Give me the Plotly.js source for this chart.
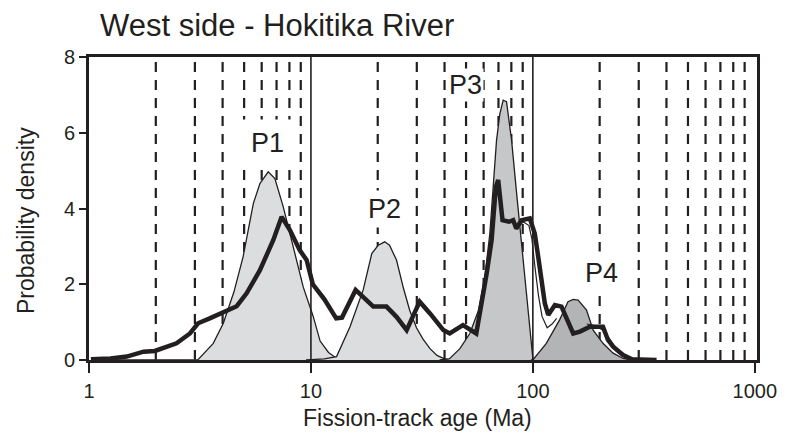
<!DOCTYPE html>
<html>
<head>
<meta charset="utf-8">
<script src="https://cdn.plot.ly/plotly-3.0.1.min.js"></script>
<style>
  html, body { margin: 0; padding: 0; background: #ffffff; }
  #chart { width: 790px; height: 433px; }
</style>
</head>
<body>
<div id="chart"></div>
<script>
// ---------- data ----------
const chartTitle = "West side - Hokitika River";
const xAxisTitle = "Fission-track age (Ma)";
const yAxisTitle = "Probability density";

const xTickVals = [1, 10, 100, 1000];
const xTickText = ["1", "10", "100", "1000"];
const yTickVals = [0, 2, 4, 6, 8];
const yTickText = ["0", "2", "4", "6", "8"];

const dashedAges = [2, 3, 4, 5, 6, 7, 8, 9, 20, 30, 40, 50, 60, 70, 80, 90, 200, 300, 400, 500, 600, 700, 800, 900];
const solidAges = [10, 100];

// observed probability density (thick line)
const obsAge = [1.02, 1.25, 1.48, 1.76, 1.98, 2.2, 2.48, 2.85, 3.1, 3.5, 4.03, 4.63, 5.13, 5.89, 6.77, 7.38, 8.04, 8.9, 9.56, 10.2, 11.5, 13.0, 13.8, 15.9, 17.8, 19.1, 21.9, 24.3, 27.0, 28.8, 30.9, 34.4, 39.5, 42.2, 48.4, 55.6, 59.7, 62, 65.2, 68.1, 69.8, 71.5, 73, 78, 81.5, 84.2, 88.9, 96.9, 102, 105.7, 109.4, 113.2, 117.3, 125.7, 134.6, 141.5, 152, 163, 180.6, 207, 218, 230, 255, 280, 361];
const obsDens = [0.02, 0.04, 0.09, 0.22, 0.24, 0.32, 0.44, 0.7, 0.97, 1.1, 1.27, 1.42, 1.76, 2.37, 3.17, 3.78, 3.43, 2.9, 2.64, 2.0, 1.6, 1.1, 1.12, 1.85, 1.58, 1.41, 1.41, 1.14, 0.79, 1.14, 1.54, 1.23, 0.79, 0.70, 0.92, 0.70, 1.67, 2.3, 3.17, 4.57, 4.75, 4.2, 3.69, 3.65, 3.69, 3.47, 3.69, 3.74, 3.34, 2.73, 2.02, 1.5, 1.19, 1.45, 1.41, 1.14, 0.70, 0.75, 0.88, 0.88, 0.53, 0.35, 0.13, 0.02, 0.0];

// fitted peaks (filled)
const p1Age = [1.05, 2.5, 3.1, 3.63, 4.03, 4.5, 4.95, 5.5, 5.89, 6.42, 6.88, 7.5, 8.18, 9.23, 10.24, 11.0, 12.0, 12.8, 14.0, 16.0];
const p1Dens = [0.0, 0.0, 0.01, 0.44, 0.97, 1.8, 2.73, 4.13, 4.66, 4.97, 4.79, 4.05, 3.17, 1.93, 1.15, 0.5, 0.2, 0.08, 0.02, 0.0];

const p2Age = [9.5, 11.5, 13.05, 15.0, 17.2, 18.8, 20.1, 21.5, 22.6, 24.3, 26.1, 27.9, 29.9, 32.0, 34.4, 37.0, 40.0, 45.0];
const p2Dens = [0.0, 0.03, 0.09, 0.88, 1.85, 2.81, 3.03, 3.12, 3.03, 2.64, 1.9, 1.3, 0.85, 0.55, 0.3, 0.12, 0.03, 0.0];

const p3Age = [38, 42, 46.9, 52, 56.8, 60.8, 64, 68.6, 71, 73.5, 76.1, 80.2, 84.5, 90.4, 95.3, 100, 102];
const p3Dens = [0.0, 0.03, 0.3, 0.7, 1.3, 2.2, 3.34, 5.8, 6.5, 6.86, 6.82, 5.8, 4.4, 2.64, 1.41, 0.04, 0.0];

const p4Age = [98, 100, 115, 132, 144, 152, 160, 174.5, 187, 207, 230, 255, 280];
const p4Dens = [0.0, 0.0, 0.44, 1.06, 1.54, 1.6, 1.58, 1.32, 0.79, 0.44, 0.18, 0.04, 0.0];

// thin outline running beside the thick line
const sideAgeA = [84, 90.4, 96, 99, 102, 106, 110, 116, 122, 128];
const sideDensA = [3.45, 3.65, 3.55, 3.2, 2.5, 1.7, 1.15, 0.85, 0.95, 1.1];
const sideAgeB = [175, 193, 205, 218, 235, 255, 275];
const sideDensB = [0.95, 0.9, 0.8, 0.62, 0.35, 0.13, 0.03];

const peakLabels = ["P1", "P2", "P3", "P4"];
const peakLabelAge = [6.4, 21.5, 49.9, 203];
const peakLabelDens = [5.73, 3.98, 7.26, 2.3];
const peakLabelPad = [8, 3, 1, 6];

const yRange = [0, 8];

// ---------- styling ----------
const ink = "#231f20";
const fillLight = "#dcdddf";
const fillMid = "#c6c7c9";
const fillDark = "#b3b4b6";

function vlines(vals) {
  const x = [], y = [];
  vals.forEach(v => { x.push(v, v, null); y.push(yRange[0], yRange[1], null); });
  return { x, y };
}
const dg = vlines(dashedAges);
const sg = vlines(solidAges);

const traces = [
  { x: dg.x, y: dg.y, mode: "lines", line: { color: ink, width: 2.2, dash: "10px,8px" }, hoverinfo: "skip" },
  { x: p1Age, y: p1Dens, mode: "lines", fill: "tozeroy", fillcolor: fillLight, line: { color: ink, width: 1.3 } },
  { x: p2Age, y: p2Dens, mode: "lines", fill: "tozeroy", fillcolor: fillLight, line: { color: ink, width: 1.3 } },
  { x: p3Age, y: p3Dens, mode: "lines", fill: "tozeroy", fillcolor: fillMid, line: { color: ink, width: 1.3 } },
  { x: p4Age, y: p4Dens, mode: "lines", fill: "tozeroy", fillcolor: fillDark, line: { color: ink, width: 1.3 } },
  { x: sg.x, y: sg.y, mode: "lines", line: { color: ink, width: 1.6 }, hoverinfo: "skip" },
  { x: sideAgeA, y: sideDensA, mode: "lines", line: { color: ink, width: 1.2 } },
  { x: sideAgeB, y: sideDensB, mode: "lines", line: { color: ink, width: 1.2 } },
  { x: obsAge, y: obsDens, mode: "lines", line: { color: ink, width: 4.5, shape: "linear" } }
];

const fontFam = "Liberation Sans, Arial, Helvetica, sans-serif";

const annotations = peakLabels.map((t, i) => ({
  text: t,
  x: Math.log10(peakLabelAge[i]),
  y: peakLabelDens[i],
  xref: "x", yref: "y",
  showarrow: false,
  font: { family: fontFam, size: 27, color: ink },
  bgcolor: "#ffffff",
  borderpad: peakLabelPad[i],
  xanchor: "center", yanchor: "middle"
}));

annotations.push({
  text: xAxisTitle, xref: "paper", yref: "paper",
  x: (417 - 89) / 668, y: -(418 - 360) / 303,
  showarrow: false, xanchor: "center", yanchor: "middle",
  font: { family: fontFam, size: 23, color: ink }
});
annotations.push({
  text: yAxisTitle, xref: "paper", yref: "paper",
  x: -(89 - 26) / 668, y: (360 - 221) / 303,
  showarrow: false, xanchor: "center", yanchor: "middle", textangle: -90,
  font: { family: fontFam, size: 23, color: ink }
});

const layout = {
  width: 790, height: 433,
  margin: { l: 89, r: 33, t: 57, b: 73, pad: 0 },
  paper_bgcolor: "#ffffff", plot_bgcolor: "#ffffff",
  showlegend: false, hovermode: false,
  font: { family: fontFam, color: ink },
  title: {
    text: chartTitle,
    font: { family: fontFam, size: 31, color: ink },
    x: 100 / 790, xanchor: "left", xref: "container",
    y: 1 - 25 / 433, yanchor: "middle", yref: "container"
  },
  xaxis: {
    type: "log", range: [0, 3.01],
    showgrid: false, zeroline: false,
    showline: true, linewidth: 3, linecolor: ink, mirror: true,
    ticks: "outside", ticklen: 10, tickwidth: 2, tickcolor: ink,
    tickvals: xTickVals, ticktext: xTickText,
    tickfont: { family: fontFam, size: 20, color: ink },
    ticklabelstandoff: 1
  },
  yaxis: {
    range: yRange,
    showgrid: false, zeroline: false,
    showline: true, linewidth: 3, linecolor: ink, mirror: true,
    ticks: "outside", ticklen: 7, tickwidth: 2, tickcolor: ink,
    tickvals: yTickVals, ticktext: yTickText,
    tickfont: { family: fontFam, size: 20, color: ink }
  },
  annotations: annotations
};

Plotly.newPlot("chart", traces, layout, { staticPlot: true, displayModeBar: false });
</script>
</body>
</html>
